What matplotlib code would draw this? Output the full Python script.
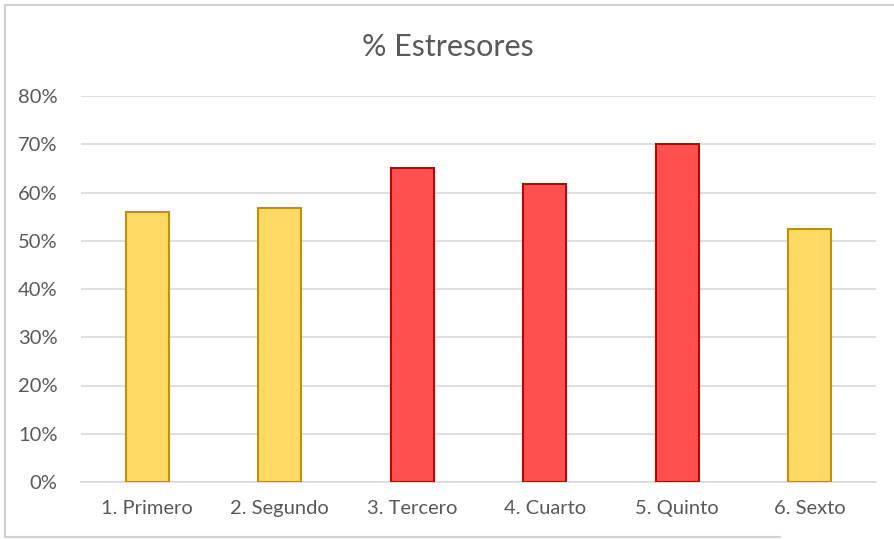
import matplotlib
matplotlib.use("Agg")
import matplotlib.pyplot as plt
from matplotlib.lines import Line2D
from matplotlib.ticker import FuncFormatter

categories = ["1. Primero", "2. Segundo", "3. Tercero", "4. Cuarto", "5. Quinto", "6. Sexto"]
values = [0.56, 0.568, 0.65, 0.618, 0.70, 0.525]
fill_colors = ["#FFD966", "#FFD966", "#FF5050", "#FF5050", "#FF5050", "#FFD966"]
edge_colors = ["#BF9000", "#BF9000", "#C00000", "#C00000", "#C00000", "#BF9000"]
yticks = [0, 0.1, 0.2, 0.3, 0.4, 0.5, 0.6, 0.7, 0.8]

plt.rcParams['font.family'] = ['Lato', 'DejaVu Sans']

W, H = 895, 540
fig = plt.figure(figsize=(W/100, H/100), dpi=100)
ax = fig.add_axes([81/W, 1-482/H, (876-81)/W, (482-96)/H])

x = range(len(categories))
ax.bar(x, values, width=0.325, color=fill_colors, edgecolor=edge_colors, linewidth=1.5, zorder=3)

ax.set_xlim(-0.5, len(categories)-0.5)
ax.set_ylim(0, 0.8)
ax.set_yticks(yticks)
ax.yaxis.set_major_formatter(FuncFormatter(lambda v, p: f"{v*100:.0f}%"))
ax.set_xticks(list(x))
ax.set_xticklabels(categories)
ax.grid(axis='y', color='#D9D9D9', linewidth=1.2, zorder=0)
for s in ['top', 'right', 'left']:
    ax.spines[s].set_visible(False)
ax.spines['bottom'].set_color('#D9D9D9')
ax.spines['bottom'].set_linewidth(1.2)
ax.tick_params(axis='both', length=0, colors='#595959', labelsize=14.5)
ax.tick_params(axis='x', pad=13)
ax.tick_params(axis='y', pad=17)

fig.text(0.5, 1-47/H, "% Estresores", ha='center', va='center', fontsize=22, color='#595959')

bc = '#D0D0D0'
fig.add_artist(Line2D([5/W, 1.0], [1-4.5/H, 1-4.5/H], transform=fig.transFigure, color=bc, linewidth=1.5))
fig.add_artist(Line2D([5/W, 5/W], [1-4.5/H, 1-537/H], transform=fig.transFigure, color=bc, linewidth=1.5))
fig.add_artist(Line2D([5/W, 780/W], [1-537/H, 1-537/H], transform=fig.transFigure, color=bc, linewidth=1.5))

fig.savefig("out.png", dpi=100, facecolor='white')
